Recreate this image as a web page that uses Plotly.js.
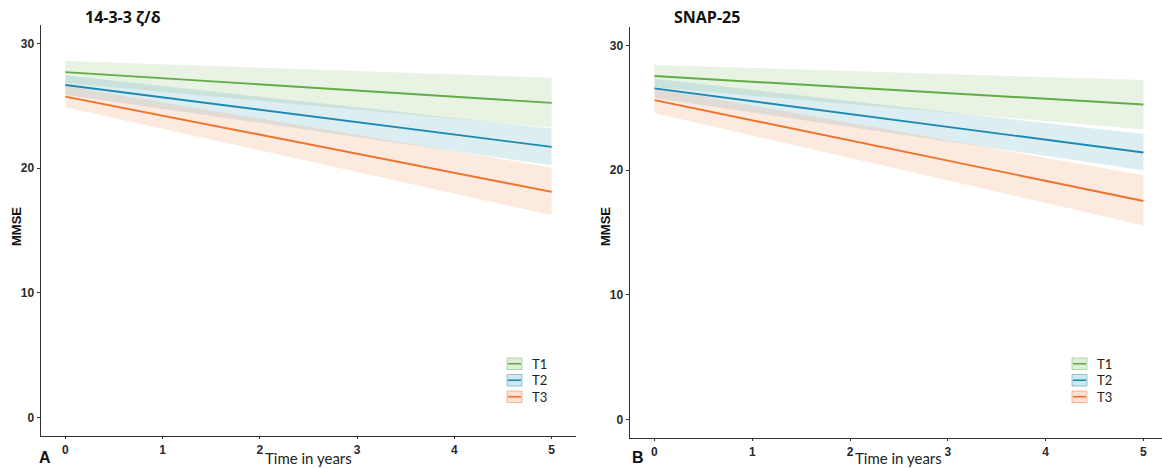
<!DOCTYPE html>
<html>
<head>
<meta charset="utf-8">
<script src="https://cdn.plot.ly/plotly-3.0.1.min.js"></script>
<style>html,body{margin:0;padding:0;background:#fff;}#chart{width:1162px;height:468px;}</style>
</head>
<body>
<div id="chart"></div>
<script>
// ---- data ----
const time = [0, 5];
const groups = ["T1", "T2", "T3"];
const panelTitles = ["14-3-3 ζ/δ", "SNAP-25"];
const panelLetters = ["A", "B"];
const xTicks = [0, 1, 2, 3, 4, 5];
const yTicks = [0, 10, 20, 30];

// Panel A : 14-3-3 zeta/delta
const aT1fit = [27.72, 25.25], aT1lo = [26.85, 23.26], aT1hi = [28.60, 27.27];
const aT2fit = [26.68, 21.71], aT2lo = [25.90, 20.24], aT2hi = [27.46, 23.18];
const aT3fit = [25.75, 18.10], aT3lo = [24.90, 16.23], aT3hi = [26.60, 20.06];
// Panel B : SNAP-25
const bT1fit = [27.56, 25.28], bT1lo = [26.67, 23.27], bT1hi = [28.45, 27.24];
const bT2fit = [26.57, 21.42], bT2lo = [25.80, 20.00], bT2hi = [27.35, 22.90];
const bT3fit = [25.63, 17.53], bT3lo = [24.60, 15.57], bT3hi = [26.60, 19.60];

// ---- styling ----
const W = 1162, H = 468;
const rgb = {T1: [98, 172, 72], T2: [28, 138, 176], T3: [241, 112, 42]};
const col = (g, a) => `rgba(${rgb[g].join(',')},${a})`;
const px = x => x / W;
const py = y => 1 - y / H;

const panels = [
  {fit: [aT1fit, aT2fit, aT3fit], lo: [aT1lo, aT2lo, aT3lo], hi: [aT1hi, aT2hi, aT3hi], xa: 'x', ya: 'y'},
  {fit: [bT1fit, bT2fit, bT3fit], lo: [bT1lo, bT2lo, bT3lo], hi: [bT1hi, bT2hi, bT3hi], xa: 'x2', ya: 'y2'}
];

const traces = [];
panels.forEach(p => {
  groups.forEach((g, i) => {
    const xs = time.concat(time.slice().reverse());
    const ys = p.lo[i].concat(p.hi[i].slice().reverse());
    traces.push({x: xs, y: ys, xaxis: p.xa, yaxis: p.ya, type: 'scatter', mode: 'lines',
      fill: 'toself', fillcolor: col(g, 0.15), line: {width: 0, color: 'rgba(0,0,0,0)'},
      hoverinfo: 'skip', showlegend: false});
  });
  groups.forEach((g, i) => {
    traces.push({x: time, y: p.fit[i], xaxis: p.xa, yaxis: p.ya, type: 'scatter', mode: 'lines',
      line: {color: col(g, 1), width: 1.9}, name: g, showlegend: false});
  });
});

const axisCommon = {
  showgrid: false, zeroline: false, showline: true, linecolor: '#333', linewidth: 1.4,
  ticks: 'outside', ticklen: 3, tickcolor: '#333', tickwidth: 1,
  tickfont: {family: 'Liberation Sans, Arial, sans-serif', size: 12, color: '#2a2a2a', weight: 'bold'}
};
const xAxisExtra = {ticklen: 2, ticklabelstandoff: 0};

const layout = {
  width: W, height: H, margin: {l: 0, r: 0, t: 0, b: 0},
  paper_bgcolor: '#fff', plot_bgcolor: '#fff', showlegend: false,
  xaxis: Object.assign({}, axisCommon, xAxisExtra, {domain: [px(41), px(576)], range: [-0.25, 5.25], anchor: 'y', tickvals: xTicks, ticktext: xTicks.map(String)}),
  yaxis: Object.assign({}, axisCommon, {domain: [py(436), py(25)], range: [-1.5, 31.5], anchor: 'x', tickvals: yTicks, ticktext: yTicks.map(String)}),
  xaxis2: Object.assign({}, axisCommon, xAxisExtra, {domain: [px(630), 1], range: [-0.25, 5.19], anchor: 'y2', tickvals: xTicks, ticktext: xTicks.map(String)}),
  yaxis2: Object.assign({}, axisCommon, {domain: [py(438), py(27)], range: [-1.5, 31.5], anchor: 'x2', tickvals: yTicks, ticktext: yTicks.map(String)}),
  annotations: [], shapes: []
};

const ann = (text, x, y, o) => layout.annotations.push(Object.assign({
  text: text, x: px(x), y: py(y), xref: 'paper', yref: 'paper', showarrow: false,
  xanchor: 'center', yanchor: 'middle'}, o || {}));

const panelGeom = [
  {titleX: 83, mmseX: 16, axisTitleX: 308, letterX: 45, keyX: 507, textX: 530},
  {titleX: 672, mmseX: 605, axisTitleX: 898, letterX: 638, keyX: 1072, textX: 1095}
];
panelGeom.forEach((g, k) => {
  ann(panelTitles[k], g.titleX, 17, {xanchor: 'left', font: {family: 'Open Sans, sans-serif', size: 16, color: '#111', weight: 'bold'}});
  ann('MMSE', g.mmseX, 227, {textangle: -90, font: {family: 'Liberation Sans, Arial, sans-serif', size: 13, color: '#111', weight: 'bold'}});
  ann('Time in years', g.axisTitleX, 458, {font: {family: 'Lato, Open Sans, sans-serif', size: 15, color: '#222'}});
  ann(panelLetters[k], g.letterX, 457.5, {font: {family: 'Liberation Sans, Arial, sans-serif', size: 16, color: '#111', weight: 'bold'}});
  const keyTops = [358, 374.5, 391];
  groups.forEach((gr, i) => {
    const t = keyTops[i], b = t + 11.5, m = (t + b) / 2;
    layout.shapes.push({type: 'rect', xref: 'paper', yref: 'paper', x0: px(g.keyX), x1: px(g.keyX + 15), y0: py(b), y1: py(t),
      fillcolor: col(gr, 0.2), line: {color: col(gr, 0.45), width: 1}});
    layout.shapes.push({type: 'line', xref: 'paper', yref: 'paper', x0: px(g.keyX + 1), x1: px(g.keyX + 14), y0: py(m), y1: py(m),
      line: {color: col(gr, 1), width: 1.6}});
    ann(gr, g.textX, m, {xanchor: 'left', font: {family: 'Lato, Open Sans, sans-serif', size: 13, color: '#222'}});
  });
});

Plotly.newPlot('chart', traces, layout, {displayModeBar: false, staticPlot: true});
</script>
</body>
</html>
